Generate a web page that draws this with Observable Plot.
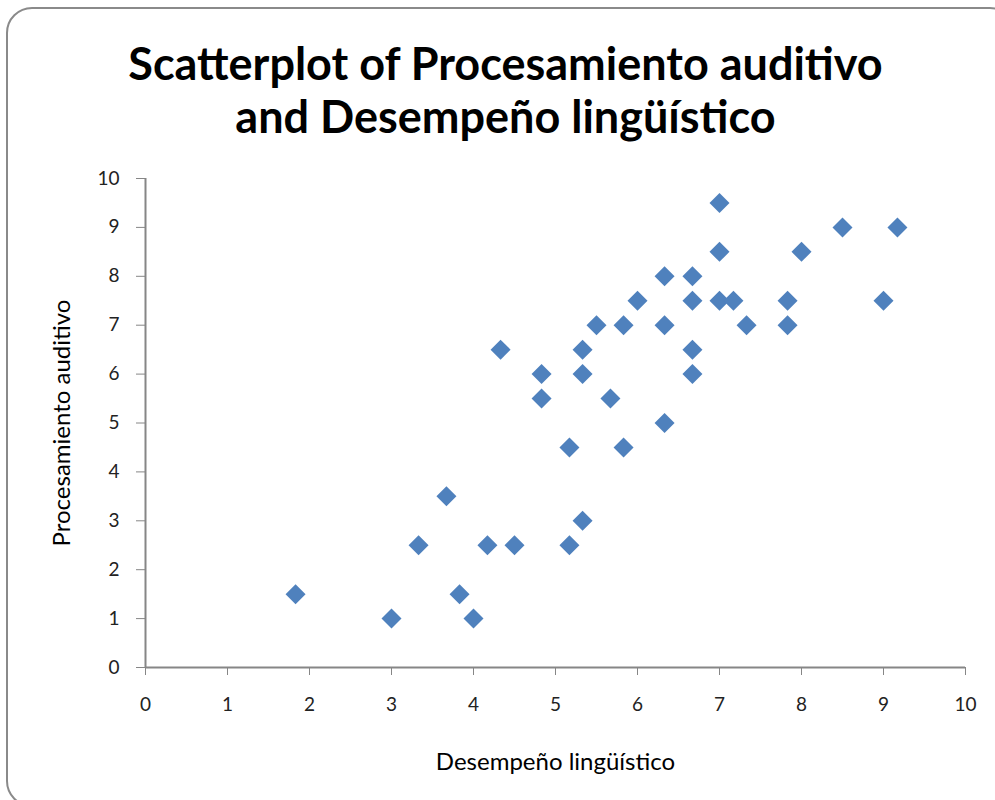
<!DOCTYPE html>
<html>
<head>
<meta charset="utf-8">
<script src="https://cdn.jsdelivr.net/npm/d3@7"></script>
<script src="https://cdn.jsdelivr.net/npm/@observablehq/plot@0.6"></script>
<style>
  html, body { margin: 0; padding: 0; background: #fff; }
  #wrap { position: relative; width: 995px; height: 800px; overflow: hidden; }
  #border { position: absolute; left: 6px; top: 7px; width: 1010px; height: 800px;
            border: 2px solid #8a8a8a; border-radius: 26px; box-sizing: border-box; }
  #chart { position: absolute; left: 0; top: 0; }
</style>
</head>
<body>
<div id="wrap"><div id="border"></div><div id="chart"></div></div>
<script>
const titleLines = ["Scatterplot of Procesamiento auditivo", "and Desempeño lingüístico"];
const xLabel = "Desempeño lingüístico";
const yLabel = "Procesamiento auditivo";
const xTicks = [0, 1, 2, 3, 4, 5, 6, 7, 8, 9, 10];
const yTicks = [0, 1, 2, 3, 4, 5, 6, 7, 8, 9, 10];

// Desempeño lingüístico (x) and Procesamiento auditivo (y)
const desempeno = [1.83, 3, 3.33, 3.67, 3.83, 4, 4.17, 4.5, 4.33, 4.83, 4.83,
  5.17, 5.17, 5.33, 5.33, 5.33, 5.5, 5.67, 5.83, 5.83, 6, 6.33, 6.33, 6.33,
  6.67, 6.67, 6.67, 6.67, 7, 7, 7, 7.17, 7.33, 7.83, 7.83, 8, 8.5, 9, 9.17];
const procesamiento = [1.5, 1, 2.5, 3.5, 1.5, 1, 2.5, 2.5, 6.5, 6, 5.5,
  4.5, 2.5, 3, 6.5, 6, 7, 5.5, 7, 4.5, 7.5, 8, 7, 5,
  8, 7.5, 6.5, 6, 9.5, 8.5, 7.5, 7.5, 7, 7.5, 7, 8.5, 9, 7.5, 9];

const points = desempeno.map((x, i) => ({x, y: procesamiento[i]}));

const axisGray = "#868686";
const chart = Plot.plot({
  width: 995,
  height: 800,
  marginLeft: 145,
  marginRight: 30,
  marginTop: 178,
  marginBottom: 133,
  style: {fontFamily: "Lato, 'Open Sans', sans-serif", background: "transparent"},
  x: {domain: [0, 10]},
  y: {domain: [0, 10]},
  marks: [
    Plot.axisX({ticks: xTicks, tickSize: 8, tickPadding: 22, stroke: axisGray, fill: "#222",
                fontSize: 19, label: null, tickFormat: d => String(d)}),
    Plot.axisY({ticks: yTicks, tickSize: 9, tickPadding: 17, stroke: axisGray, fill: "#222",
                fontSize: 19, label: null, tickFormat: d => String(d)}),
    Plot.ruleY([0], {stroke: axisGray, strokeWidth: 2}),
    Plot.ruleX([0], {stroke: axisGray, strokeWidth: 2}),
    Plot.dot(points, {x: "x", y: "y", symbol: "diamond2", r: 9, fill: "#4F81BD", stroke: null}),
    Plot.text([titleLines[0]], {frameAnchor: "top", dx: -50, dy: -113, fontSize: 45,
               fontWeight: "bold", fill: "#000", lineAnchor: "middle"}),
    Plot.text([titleLines[1]], {frameAnchor: "top", dx: -50, dy: -60, fontSize: 45,
               fontWeight: "bold", fill: "#000", lineAnchor: "middle"}),
    Plot.text([xLabel], {frameAnchor: "bottom", dy: 95, fontSize: 24, fill: "#000", lineAnchor: "middle"}),
    Plot.text([yLabel], {frameAnchor: "left", dx: -83, rotate: -90, fontSize: 24, fill: "#000",
               textAnchor: "middle", lineAnchor: "middle"})
  ]
});
document.getElementById("chart").appendChild(chart);
</script>
</body>
</html>
